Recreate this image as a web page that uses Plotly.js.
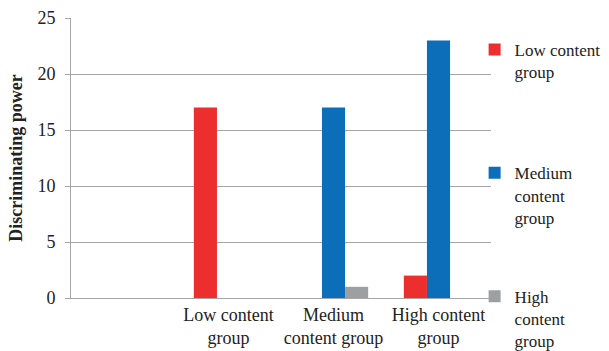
<!DOCTYPE html>
<html>
<head>
<meta charset="utf-8">
<script src="https://cdn.plot.ly/plotly-3.0.1.min.js"></script>
<style>
  html, body { margin: 0; padding: 0; background: #fff; }
  #chart { width: 609px; height: 351px; }
</style>
</head>
<body>
<div id="chart"></div>
<script>
// Category slots along the x axis (the first slot is left empty)
const categories = [" ", "Low content<br>group", "Medium<br>content group", "High content<br>group"];

// Discriminating power per series
const lowContent    = [null, 17, 0, 2];
const mediumContent = [null, 0, 17, 23];
const highContent   = [null, 0, 1, 0];

const seriesNames  = ["Low content<br>group<br> ", "Medium<br>content<br>group", "High<br>content<br>group"];
const seriesColors = ["#ED2E2E", "#0C6EB9", "#9D9FA0"];

const serif = "Times New Roman, Liberation Serif, DejaVu Serif, serif";

const traces = [lowContent, mediumContent, highContent].map((vals, i) => ({
  type: "bar",
  x: categories,
  y: vals,
  name: seriesNames[i],
  legendgroup: "g" + i,
  marker: { color: seriesColors[i], line: { width: 0 } },
  hoverinfo: "y"
}));

const layout = {
  width: 609,
  height: 351,
  // fixed plot area; the legend and labels must not push the margins
  margin: { l: 71, r: 118, t: 18, b: 53, autoexpand: false },
  paper_bgcolor: "#ffffff",
  plot_bgcolor: "#ffffff",
  barmode: "group",
  bargap: 0.34,
  bargroupgap: 0,
  font: { family: serif, size: 18, color: "#222" },
  xaxis: {
    type: "category",
    showgrid: false,
    showline: true,
    linecolor: "#a6a6a6",
    linewidth: 1,
    ticks: "",
    ticklabelstandoff: 0,
    tickfont: { family: serif, size: 18, color: "#222" },
    zeroline: false,
    automargin: false,
    fixedrange: true
  },
  yaxis: {
    range: [0, 25],
    dtick: 5,
    showgrid: true,
    gridcolor: "#a6a6a6",
    gridwidth: 1,
    showline: true,
    linecolor: "#a6a6a6",
    linewidth: 1,
    ticks: "outside",
    ticklen: 5,
    tickcolor: "#a6a6a6",
    ticklabelstandoff: 6,
    tickfont: { family: serif, size: 18, color: "#222" },
    zeroline: false,
    automargin: false,
    title: {
      text: "<b>Discriminating power</b>",
      font: { family: serif, size: 18, color: "#222" },
      standoff: 10
    },
    fixedrange: true
  },
  showlegend: true,
  legend: {
    x: 0.961,
    xanchor: "left",
    y: 0.95,
    yanchor: "top",
    valign: "top",
    traceorder: "grouped",
    tracegroupgap: 54,
    itemwidth: 30,
    maxheight: 400,
    bgcolor: "rgba(0,0,0,0)",
    font: { family: serif, size: 17, color: "#222" }
  }
};

Plotly.newPlot("chart", traces, layout, { displayModeBar: false, staticPlot: true });
</script>
</body>
</html>
